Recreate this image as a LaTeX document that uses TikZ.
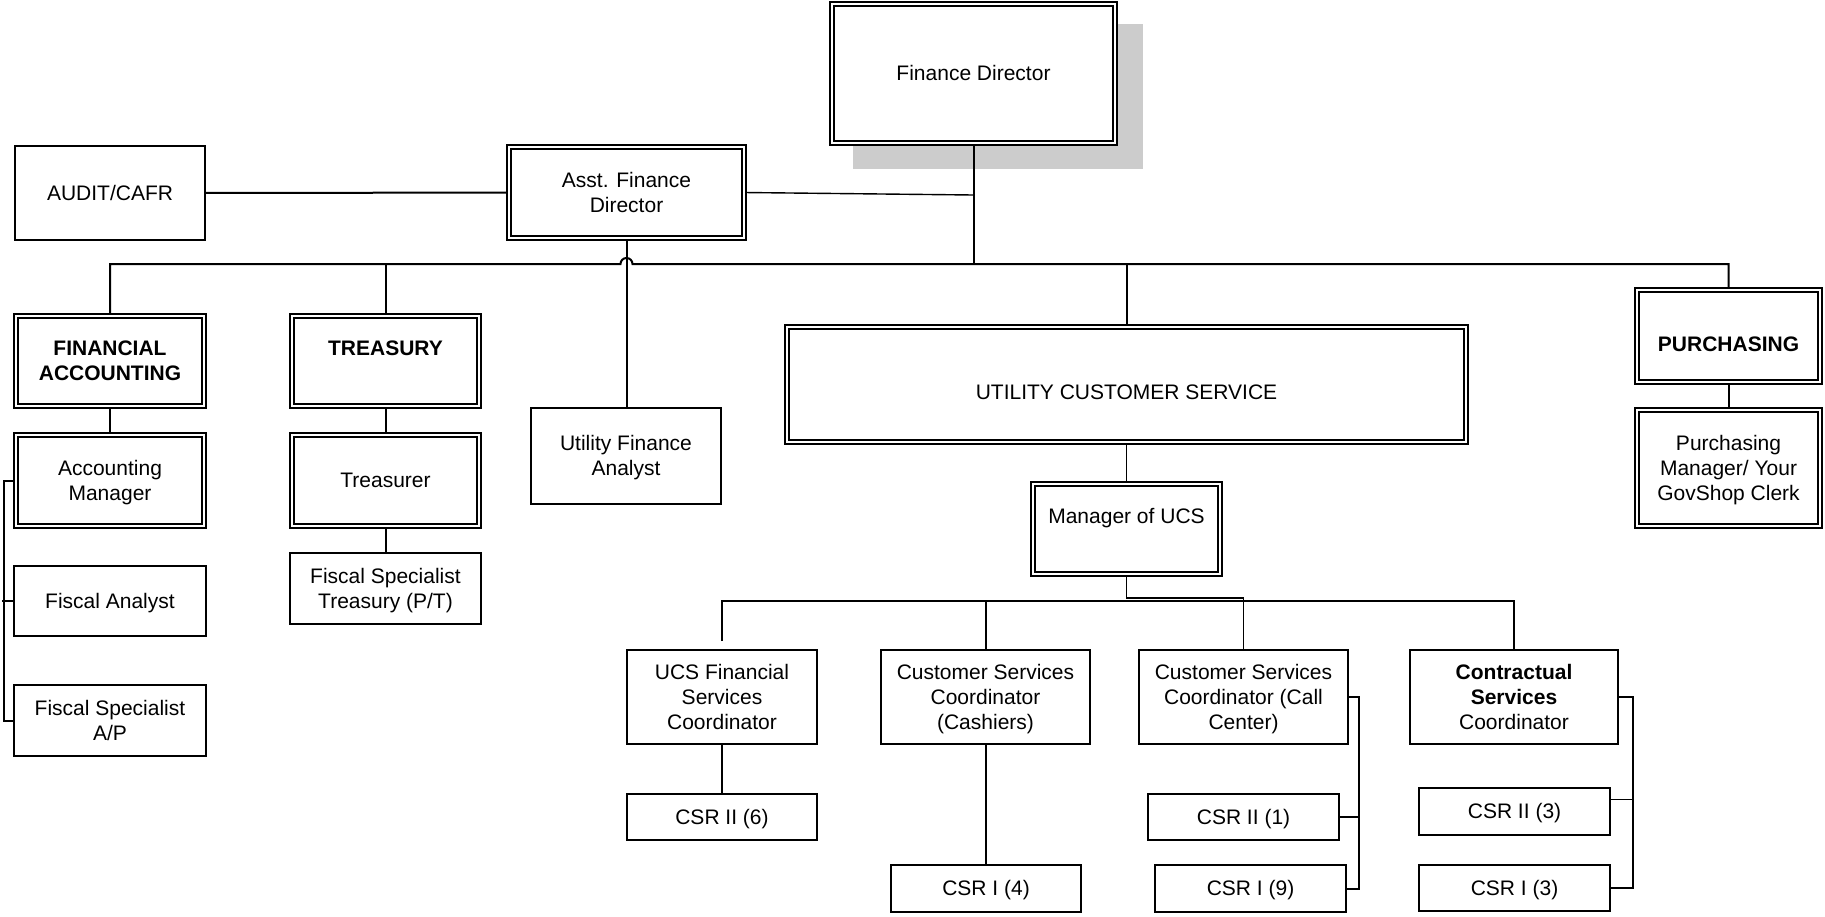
\documentclass[tikz,border=0pt]{standalone}
\usepackage{fontspec}
\setmainfont{Liberation Sans}
\usetikzlibrary{backgrounds,calc}
\definecolor{shadowgray}{HTML}{CCCCCC}
\newcommand\fs{\fontsize{10.5pt}{12.5pt}\selectfont}
\newcommand\bstrut{\rule[-2.23pt]{0pt}{11.73pt}}
\tikzset{
  boxinset/.store in=\boxinset,
  boxbase/.style={fill=white, inner sep=0pt, outer sep=0pt, align=center, font=\fs},
  sbox/.style={boxbase, draw, line width=1pt, boxinset=1pt},
  dbox/.style={boxbase, draw, double, double distance=1pt, line width=0.9pt, boxinset=2.8pt},
  boldtxt/.style={font=\fs\bfseries},
  lowtxt/.style={text height=17.5pt, text depth=2.23pt},
  conn/.style={line width=1pt},
  thinline/.style={line width=0.7pt},
}
\newcommand\mkbox[7]{%
  \node[#1, minimum width={(#5-#3)*0.5pt-\boxinset}, minimum height={(#6-#4)*0.5pt-\boxinset}]
    (#2) at ({(#3+#5)/2},{(#4+#6)/2}) {\bstrut#7\bstrut};}
\begin{document}
\begin{tikzpicture}[x=0.5pt,y=-0.5pt]
\useasboundingbox (0,0) rectangle (1825,916);
% boxes
\mkbox{dbox}{fd}{829}{1}{1118}{146}{Finance Director}
\mkbox{dbox}{afd}{506}{144}{747}{241}{Asst. Finance\\Director}
\mkbox{sbox}{audit}{14}{145}{206}{241}{AUDIT/CAFR}
\mkbox{dbox,boldtxt}{fa}{13}{313}{207}{409}{FINANCIAL\\ACCOUNTING}
\mkbox{dbox,boldtxt}{tr}{289}{313}{482}{409}{TREASURY\\\mbox{}}
\mkbox{dbox}{am}{13}{432}{207}{529}{Accounting\\Manager}
\mkbox{sbox}{fan}{13}{565}{207}{637}{Fiscal Analyst}
\mkbox{sbox}{fsap}{13}{684}{207}{757}{Fiscal Specialist\\A/P}
\mkbox{dbox}{tre}{289}{432}{482}{529}{Treasurer}
\mkbox{sbox}{fst}{289}{552}{482}{625}{Fiscal Specialist\\Treasury (P/T)}
\mkbox{sbox}{ufa}{530}{407}{722}{505}{Utility Finance\\Analyst}
\mkbox{dbox,lowtxt}{ucs}{784}{324}{1469}{445}{UTILITY CUSTOMER SERVICE}
\mkbox{dbox}{mucs}{1030}{481}{1223}{577}{Manager of UCS\\\mbox{}}
\mkbox{sbox}{ucsf}{626}{649}{818}{745}{UCS Financial\\Services\\Coordinator}
\mkbox{sbox}{cash}{880}{649}{1091}{745}{Customer Services\\Coordinator\\(Cashiers)}
\mkbox{sbox}{call}{1138}{649}{1349}{745}{Customer Services\\Coordinator (Call\\Center)}
\mkbox{sbox}{cont}{1409}{649}{1619}{745}{\textbf{Contractual}\\\textbf{Services}\\Coordinator}
\mkbox{sbox}{c6}{626}{793}{818}{841}{CSR II (6)}
\mkbox{sbox}{c4}{890}{864}{1082}{913}{CSR I (4)}
\mkbox{sbox}{c1}{1147}{793}{1340}{841}{CSR II (1)}
\mkbox{sbox}{c9}{1154}{864}{1347}{913}{CSR I (9)}
\mkbox{sbox}{c3b}{1418}{787}{1611}{836}{CSR II (3)}
\mkbox{sbox}{c3a}{1418}{864}{1611}{912}{CSR I (3)}
\mkbox{dbox,boldtxt,lowtxt}{pu}{1634}{287}{1823}{385}{PURCHASING}
\mkbox{dbox}{pm}{1634}{407}{1823}{529}{Purchasing\\Manager/ Your\\GovShop Clerk}
% connectors
\begin{scope}[on background layer]
\fill[shadowgray] (853,24) rectangle (1143,169);
\coordinate (bus) at (0,264);
\coordinate (j1) at (973.5,195);
\coordinate (sbus) at (0,601);
\coordinate (stp) at (0,598);
\draw[conn] (fd.south) -- (fd.south |- bus);
\draw[conn] (audit) -- (afd);
\draw[thinline] (afd.east) -- (j1);
\draw[conn] (fa.north) -- (fa.north |- bus) -- ($(afd.south |- bus)+(-6,0)$)
  arc[start angle=180,end angle=0,radius=3pt] -- (pu.north |- bus) -- (pu.north);
\draw[conn] (tr.north) -- (tr.north |- bus);
\draw[conn] (ucs.north) -- (ucs.north |- bus);
\draw[conn] (afd.south) -- (afd.south |- ufa.north);
\draw[conn] (fa.south) -- (am.north);
\draw[conn] (am.west) -- ++(-12,0) |- (fsap.west);
\draw[conn] (fan.west) -- ++(-12,0);
\draw[conn] (tr.south) -- (tre.north);
\draw[conn] (tre.south) -- (fst.north);
\draw[conn] (pu.south) -- (pm.north);
\draw[thinline] (ucs.south) -- (mucs.north);
\draw[thinline] (mucs.south) -- (mucs.south |- stp) -| (call.north);
\draw[conn] ($(ucsf.north)+(0,-9)$) -- (ucsf.north |- sbus) -| (cont.north);
\draw[conn] (cash.north) -- (cash.north |- sbus);
\draw[conn] (ucsf.south) -- (c6.north);
\draw[conn] (cash.south) -- (cash.south |- c4.north);
\draw[conn] (call.east) -- ++(11,0) coordinate (cb) |- (c9.east);
\draw[thinline] (c1.east) -- (c1.east -| cb);
\draw[conn] (cont.east) -- ++(15,0) coordinate (kb) |- (c3a.east);
\draw[thinline] ($(c3b.east)+(0,-12)$) coordinate (t3) -- (t3 -| kb);
\end{scope}
\end{tikzpicture}
\end{document}
